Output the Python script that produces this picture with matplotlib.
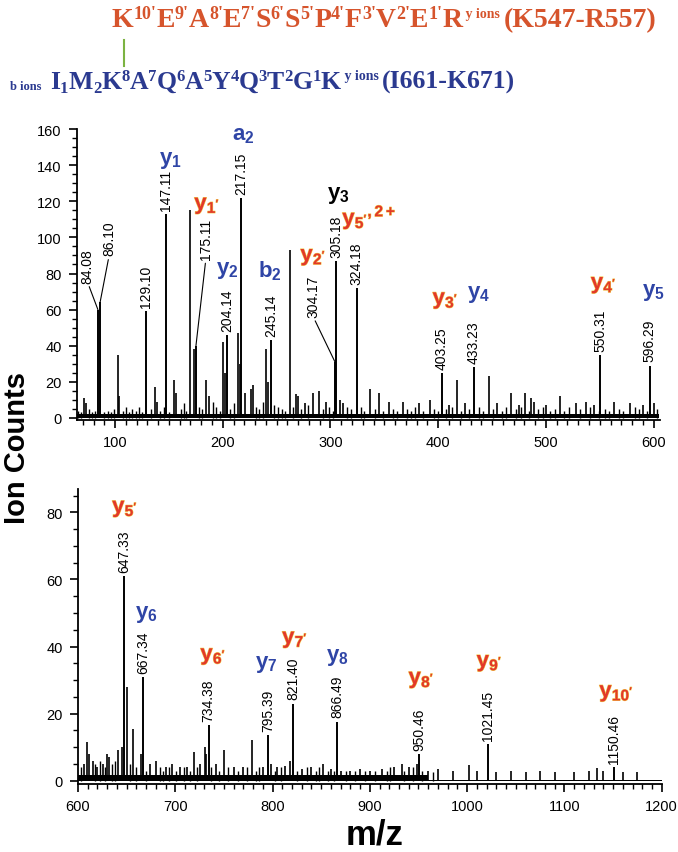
import matplotlib
matplotlib.use("Agg")
import matplotlib.pyplot as plt
import matplotlib.transforms as mtransforms
import matplotlib.patheffects as pe
from matplotlib.lines import Line2D
from matplotlib.ticker import MultipleLocator

plt.rcParams['font.family'] = ['Liberation Sans', 'DejaVu Sans']
plt.rcParams['mathtext.fontset'] = 'custom'
plt.rcParams['mathtext.rm'] = 'Liberation Sans:bold'
plt.rcParams['mathtext.it'] = 'Liberation Sans:bold'
plt.rcParams['mathtext.bf'] = 'Liberation Sans:bold'
plt.rcParams['mathtext.default'] = 'rm'

RED = '#e2382a'
BLUE = '#2f45a6'
HEAD_RED = '#d6542c'
HEAD_BLUE = '#2b3a90'

# ---- top panel (m/z 65-605) ----
top_mz = [84.08, 86.10, 129.10, 147.11, 175.11, 204.14, 217.15, 245.14,
          304.17, 305.18, 324.18, 403.25, 433.23, 550.31, 596.29]
top_h = [60, 64, 59, 113, 40, 46, 122, 43, 31, 87, 72, 25, 28, 35, 29]
# where the number label sits (None = right above the peak)
top_lbl_xy = [(74.6, 75), (94.5, 90), None, None, (184.3, 88), None, None, None,
              (284, 56), None, None, None, None, None, None]

top_minor_mz = [71, 73, 103, 104, 137, 139, 155, 157, 169.5, 173, 184, 187, 200, 202,
                214, 216, 221, 226, 228, 240, 242, 262.5, 268, 270, 276, 284, 289, 296,
                309, 312, 337, 345, 354, 367, 382, 392, 410, 417.5, 425, 447.6, 455,
                468, 475, 481, 486, 489, 500, 513, 528, 537, 545, 563, 578, 590, 600]
top_minor_h = [11, 8, 35, 12, 17, 9, 21, 14, 115, 38, 21, 12, 42, 25,
               47, 30, 14, 16, 18, 38, 20, 93, 13, 12, 8, 14, 15, 9,
               10, 8, 16, 14, 9, 9, 8, 10, 7, 21, 8, 23, 8,
               14, 7, 14, 11, 9, 7, 12, 8, 9, 7, 9, 8, 7, 8]

top_grass_mz = [66, 68, 76, 79, 81, 90, 93, 96, 99, 107, 110, 113, 116, 119, 122, 125,
                133, 142, 145, 150, 161, 164, 166, 178, 181, 191, 194, 197, 207, 210,
                231, 234, 237, 248, 251, 255, 258, 265, 273, 279, 293, 299, 302, 315,
                319, 328, 331, 341, 349, 358, 362, 371, 375, 378, 386, 396, 400, 407,
                413, 421, 429, 438, 442, 451, 459, 463, 472, 477, 484, 493, 497, 504,
                508, 517, 521, 532, 541, 549, 555, 559, 568, 572, 583, 586, 594, 603]
top_grass_h = [4, 3, 5, 3, 4, 3, 4, 3, 5, 4, 6, 3, 5, 4, 6, 3,
               5, 4, 6, 3, 5, 8, 4, 6, 5, 9, 6, 4, 5, 8,
               6, 5, 9, 7, 6, 5, 4, 6, 5, 7, 5, 6, 4, 6,
               5, 6, 4, 5, 4, 5, 4, 5, 4, 6, 4, 5, 4, 5,
               6, 4, 5, 6, 4, 5, 4, 6, 5, 6, 4, 5, 6, 4,
               5, 4, 6, 5, 6, 4, 5, 4, 5, 4, 6, 5, 4, 5]

top_ions = [r"$y_1$", r"$y_{1'}$", r"$a_2$", r"$y_2$", r"$b_2$", r"$y_3$", r"$y_{2'}$",
            r"$y_{5'}{}^{,2+}$", r"$y_{3'}$", r"$y_4$", r"$y_{4'}$", r"$y_5$"]
top_ion_mz = [151, 185.5, 218.7, 203.8, 244, 307, 284, 336, 406.7, 437.4, 553.6, 600]
top_ion_y = [143, 117.5, 157, 82, 82, 124, 89, 111, 65, 69, 73.5, 70]
top_ion_col = [BLUE, RED, BLUE, BLUE, BLUE, 'black', RED, RED, RED, BLUE, RED, BLUE]

# ---- bottom panel (m/z 600-1200) ----
bot_mz = [647.33, 667.34, 734.38, 795.39, 821.40, 866.49, 950.46, 1021.45, 1150.46]
bot_h = [61, 31, 16.5, 13.5, 23, 17.6, 8, 11, 4]

bot_minor_mz = [606, 609, 611, 615, 620, 626, 630, 632, 641, 645, 650, 656.5, 665,
                674, 680, 690, 697, 705, 712, 719, 725, 730.7, 732, 742, 750.6, 760,
                770, 778.5, 790, 798, 805, 813, 818, 830, 840, 852, 860, 870, 880,
                890, 900, 912, 925, 932.6, 940, 948, 960, 970, 985, 1002, 1010, 1030,
                1045, 1060, 1075, 1090, 1110, 1125, 1133.6, 1140, 1160, 1175]
bot_minor_h = [5, 11.6, 8, 6, 4, 5, 8, 7, 9, 10, 28, 15.5, 8,
               5, 6, 4, 5, 4, 4, 8.6, 5, 10, 8, 5, 9, 4,
               4, 12, 4, 5, 4, 4.5, 6, 3.5, 4, 5, 3.5, 3, 3,
               3.5, 3, 3.5, 4, 5, 4, 5, 3, 3.5, 3, 4.6, 3, 2.5,
               3, 2.5, 3, 2.5, 2.5, 3, 3.8, 3, 2.5, 2.5]

bot_grass_mz = [603, 618, 623, 628, 635, 638, 653, 660, 670, 684, 687, 694, 701, 709,
                715, 722, 737, 745, 754, 764, 774, 783, 786, 802, 809, 825, 835, 845,
                848, 857, 863, 875, 885, 895, 905, 918, 921, 935, 944, 954, 965]
bot_grass_h = [4, 5, 6, 4, 5, 6, 5, 4, 3, 4, 3, 4, 3, 4,
               3, 4, 4, 3, 4, 3, 4, 3, 4, 3, 4, 3, 4, 3,
               4, 3, 3, 3, 3, 3, 3, 3, 4, 3, 4, 3, 2.5]

bot_ions = [r"$y_{5'}$", r"$y_6$", r"$y_{6'}$", r"$y_7$", r"$y_{7'}$", r"$y_8$",
            r"$y_{8'}$", r"$y_{9'}$", r"$y_{10'}$"]
bot_ion_mz = [648.3, 670.5, 739, 794, 823, 867, 953, 1023, 1153.5]
bot_ion_y = [81, 49.7, 37, 35, 42, 37, 30, 35, 26]
bot_ion_col = [RED, BLUE, RED, BLUE, RED, BLUE, RED, RED, RED]

# baseline noise level
top_floor_edges = [65, 605]
top_floor_level = [2]
bot_floor_edges = [600, 960, 1200]
bot_floor_level = [1.8, 0.3]


def draw_panel(ax, mz, h, lbl_xy, minor_mz, minor_h, grass_mz, grass_h, ions,
               ion_mz, ion_y, ion_col, edges, levels):
    for i in range(len(levels)):
        ax.fill_between([edges[i], edges[i + 1]], 0, levels[i], color='black', lw=0)
    ax.vlines(grass_mz, 0, grass_h, color='black', lw=1.0)
    ax.vlines(minor_mz, 0, minor_h, color='black', lw=1.2)
    ax.vlines(mz, 0, h, color='black', lw=1.4)
    for i in range(len(mz)):
        xy = lbl_xy[i] if lbl_xy is not None else None
        if xy is None:
            ax.annotate(f"{mz[i]:.2f}", (mz[i], h[i]), xytext=(0, 3),
                        textcoords='offset points', rotation=90, ha='center',
                        va='bottom', fontsize=10)
        else:
            ax.annotate(f"{mz[i]:.2f}", (mz[i], h[i]), xytext=xy, textcoords='data',
                        rotation=90, ha='center', va='bottom', fontsize=10,
                        arrowprops=dict(arrowstyle='-', lw=0.8, color='black',
                                        shrinkA=1, shrinkB=0, relpos=(0.5, 0)))
    for s, x, y, c in zip(ions, ion_mz, ion_y, ion_col):
        fx = [pe.withStroke(linewidth=0.8, foreground='#f2c94c')] if c == RED else None
        ax.text(x, y, s, color=c, fontsize=16, ha='center', va='center',
                path_effects=fx)
    ax.spines['top'].set_visible(False)
    ax.spines['right'].set_visible(False)
    ax.tick_params(direction='out', length=6, width=1.2, labelsize=10.5, pad=5)
    ax.tick_params(which='minor', direction='out', length=3.5, width=1)
    ax.xaxis.set_major_locator(MultipleLocator(100))
    ax.xaxis.set_minor_locator(MultipleLocator(10))
    ax.yaxis.set_major_locator(MultipleLocator(20))
    ax.yaxis.set_minor_locator(MultipleLocator(5))
    for sp in ax.spines.values():
        sp.set_linewidth(1.3)


fig = plt.figure(figsize=(6.78, 8.53), dpi=100)
ax1 = fig.add_axes([0.1136, 0.5064, 0.860, 0.341])
ax2 = fig.add_axes([0.115, 0.0797, 0.861, 0.346])

draw_panel(ax1, top_mz, top_h, top_lbl_xy, top_minor_mz, top_minor_h, top_grass_mz,
           top_grass_h, top_ions, top_ion_mz, top_ion_y, top_ion_col,
           top_floor_edges, top_floor_level)
ax1.set_xlim(64.7, 606)
ax1.set_ylim(-1.2, 160)

draw_panel(ax2, bot_mz, bot_h, None, bot_minor_mz, bot_minor_h, bot_grass_mz,
           bot_grass_h, bot_ions, bot_ion_mz, bot_ion_y, bot_ion_col,
           bot_floor_edges, bot_floor_level)
ax2.set_xlim(600, 1200)
ax2.set_ylim(-1, 87)
ax2.set_yticks([0, 20, 40, 60, 80])

fig.text(0.025, 0.475, 'Ion Counts', rotation=90, ha='center', va='center',
         fontsize=21, fontweight='bold')
fig.text(0.552, 0.021, 'm/z', ha='center', va='center', fontsize=25, fontweight='bold')


# ---- peptide header: pieces of text laid one after another ----
def seq_text(x_px, y_px, parts, color):
    r = fig.canvas.get_renderer()
    dx = 0
    for s, size, rise in parts:
        tr = mtransforms.offset_copy(fig.transFigure, x=dx, y=rise, units='dots')
        t = fig.text(x_px / 678, 1 - y_px / 853, s, transform=tr, fontsize=size,
                     color=color, fontweight='bold', va='baseline',
                     family=['Liberation Serif', 'DejaVu Serif'])
        dx += t.get_window_extent(r).width


red_res = ['K', 'E', 'A', 'E', 'S', 'S', 'P', 'F', 'V', 'E', 'R']
red_idx = ["10'", "9'", "8'", "7'", "6'", "5'", "4'", "3'", "2'", "1'", None]
parts = []
for a, n in zip(red_res, red_idx):
    parts.append((a, 20, 0))
    if n:
        parts.append((n, 13, 8))
parts.append((' y ions ', 10, 9))
parts.append(('(K547-R557)', 20, 0))
seq_text(112, 27, parts, HEAD_RED)

blue_res = ['I', 'M', 'K', 'A', 'Q', 'A', 'Y', 'Q', 'T', 'G', 'K']
blue_idx = ['1', '2', '8', '7', '6', '5', '4', '3', '2', '1', None]
parts = []
for i, (a, n) in enumerate(zip(blue_res, blue_idx)):
    parts.append((a, 18.5, 0))
    if n:
        parts.append((n, 12, -4 if i < 2 else 8))
parts.append((' y ions ', 10, 9))
parts.append(('(I661-K671)', 18.5, 0))
fig.text(10 / 678, 1 - 90 / 853, 'b ions', fontsize=9, color=HEAD_BLUE, fontweight='bold',
         family=['Liberation Serif', 'DejaVu Serif'], va='baseline')
seq_text(50, 89, parts, HEAD_BLUE)

fig.add_artist(Line2D([124 / 678, 124 / 678], [1 - 41 / 853, 1 - 67 / 853],
                      color='#7cb342', lw=1.5, transform=fig.transFigure))

fig.savefig('out.png', dpi=100)
